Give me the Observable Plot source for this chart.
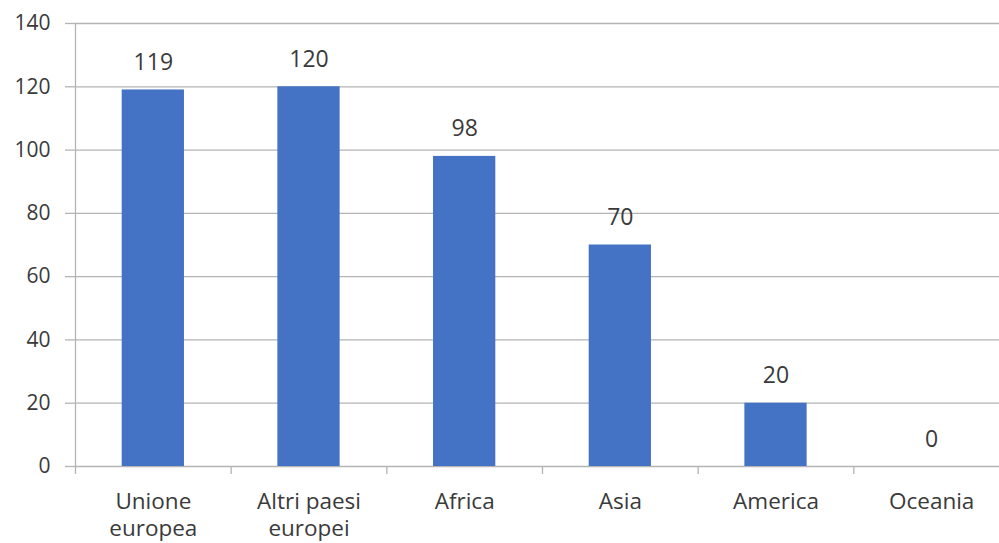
<!DOCTYPE html>
<html>
<head>
<meta charset="utf-8">
<script src="https://cdn.jsdelivr.net/npm/d3@7"></script>
<script src="https://cdn.jsdelivr.net/npm/@observablehq/plot@0.6"></script>
<style>
  html, body { margin: 0; padding: 0; background: #fff; overflow: hidden; }
  #chart svg { overflow: visible; }
</style>
</head>
<body>
<div id="chart"></div>
<script>
const categories = ["Unione europea", "Altri paesi europei", "Africa", "Asia", "America", "Oceania"];
const labelLine1 = ["Unione", "Altri paesi", "Africa", "Asia", "America", "Oceania"];
const labelLine2 = ["europea", "europei", "", "", "", ""];
const values = [119, 120, 98, 70, 20, 0];
const yTicks = [0, 20, 40, 60, 80, 100, 120, 140];

const data = categories.map((c, i) => ({category: c, value: values[i]}));
const labelData = categories.map((c, i) => ({category: c, line1: labelLine1[i], line2: labelLine2[i]}));

const W = 999, H = 543;
const mL = 75, mR = -10, mT = 23, mB = 77;
const step = (W - mL - mR) / categories.length;
const gridColor = "#b4b4b4";
const textColor = "#3a3a3a";

const chart = Plot.plot({
  width: W,
  height: H,
  marginLeft: mL,
  marginRight: mR,
  marginTop: mT,
  marginBottom: mB,
  style: {fontFamily: "'Open Sans', sans-serif", fontSize: "21px", color: textColor, background: "#fff", overflow: "visible"},
  x: {domain: categories, paddingInner: 0.6, paddingOuter: 0.3, round: false, label: null, axis: null},
  y: {domain: [0, 140], label: null, axis: null},
  marks: [
    Plot.gridY(yTicks, {stroke: gridColor, strokeOpacity: 1, strokeWidth: 1.3}),
    Plot.axisY(yTicks, {tickSize: 10, tickPadding: 15, stroke: gridColor, strokeOpacity: 1, strokeWidth: 1.3, fill: textColor, fontSize: 21, label: null}),
    Plot.frame({anchor: "left", stroke: gridColor, strokeOpacity: 1, strokeWidth: 1.3}),
    Plot.axisX({tickSize: 8, text: null, dx: -step / 2, stroke: gridColor, strokeOpacity: 1, strokeWidth: 1.3, label: null}),
    Plot.text(labelData, {x: "category", text: "line1", frameAnchor: "bottom", lineAnchor: "top", dy: 27, fill: textColor, fontSize: 22.5}),
    Plot.text(labelData, {x: "category", text: "line2", frameAnchor: "bottom", lineAnchor: "top", dy: 54, fill: textColor, fontSize: 22.5}),
    Plot.barY(data, {x: "category", y: "value", fill: "#4472C4"}),
    Plot.text(data, {x: "category", y: "value", text: d => String(d.value), lineAnchor: "bottom", dy: -20, fill: textColor, fontSize: 23})
  ]
});
document.getElementById("chart").appendChild(chart);
</script>
</body>
</html>
